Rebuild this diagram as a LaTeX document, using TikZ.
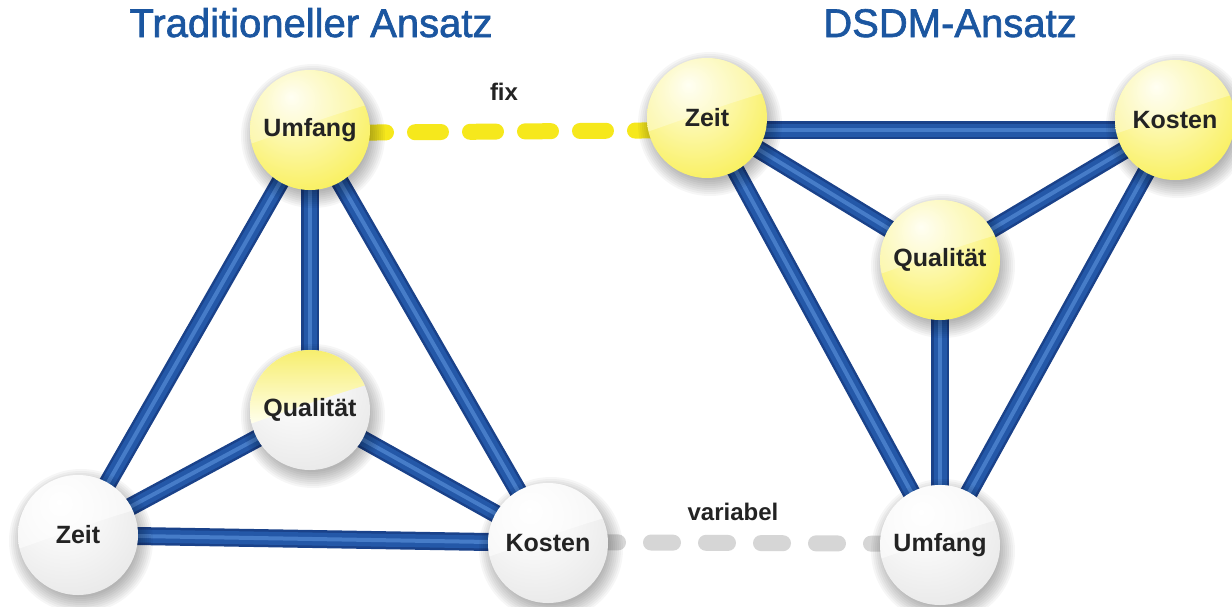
\documentclass[tikz,border=0pt]{standalone}
\usepackage{fontspec}
\setmainfont{Liberation Sans}
\newfontfamily\titlefont{Liberation Sans}[FakeBold=1.6]
\usetikzlibrary{calc}
\pgfdeclarelayer{bgpaper}
\pgfdeclarelayer{edges}
\pgfdeclarelayer{shadows}
\pgfsetlayers{bgpaper,edges,shadows,main}

\definecolor{titleblue}{RGB}{27,86,160}
\definecolor{lbltext}{RGB}{35,35,35}
\definecolor{edgeA}{RGB}{26,66,138}
\definecolor{edgeB}{RGB}{36,88,168}
\definecolor{edgeC}{RGB}{70,124,200}
\definecolor{dashY}{RGB}{246,232,28}
\definecolor{dashG}{RGB}{214,214,214}
\definecolor{yhi}{RGB}{255,255,238}
\definecolor{ylt}{RGB}{253,249,184}
\definecolor{ymd}{RGB}{249,240,96}
\definecolor{ydk}{RGB}{238,222,20}
\definecolor{yhalf}{RGB}{247,238,110}
\definecolor{ghi}{RGB}{255,255,255}
\definecolor{glt}{RGB}{248,248,248}
\definecolor{gmd}{RGB}{232,232,232}
\definecolor{gdk}{RGB}{210,210,210}

\pgfdeclareradialshading{yball}{\pgfpoint{-8bp}{14bp}}{color(0bp)=(yhi); color(12bp)=(ylt); color(34bp)=(ymd); color(50bp)=(ydk); color(72bp)=(ydk)}
\pgfdeclareradialshading{gball}{\pgfpoint{-8bp}{14bp}}{color(0bp)=(ghi); color(14bp)=(glt); color(36bp)=(gmd); color(50bp)=(gdk); color(72bp)=(gdk)}

\tikzset{
  sphere/.style={circle, minimum size=120pt, inner sep=0pt, text=lbltext,
    font=\bfseries\fontsize{25}{30}\selectfont},
  ysph/.style={sphere, shading=yball, path picture={
    \fill[white, fill opacity=0.32]
      ($(path picture bounding box.west)+(0,14)$)
      .. controls ($(path picture bounding box.center)+(-20,0)$) and ($(path picture bounding box.center)+(25,-16)$)
      .. ($(path picture bounding box.east)+(0,-26)$)
      -- (path picture bounding box.north east) -- (path picture bounding box.north west) -- cycle;}},
  gsph/.style={sphere, shading=gball, path picture={
    \fill[white, fill opacity=0.5]
      ($(path picture bounding box.west)+(0,14)$)
      .. controls ($(path picture bounding box.center)+(-20,0)$) and ($(path picture bounding box.center)+(25,-16)$)
      .. ($(path picture bounding box.east)+(0,-26)$)
      -- (path picture bounding box.north east) -- (path picture bounding box.north west) -- cycle;}},
  halfsph/.style={sphere, shading=gball, path picture={
    \begin{scope}
    \clip
      ($(path picture bounding box.west)+(0,14)$)
      .. controls ($(path picture bounding box.center)+(-20,0)$) and ($(path picture bounding box.center)+(25,-16)$)
      .. ($(path picture bounding box.east)+(0,-26)$)
      -- (path picture bounding box.north east) -- (path picture bounding box.north west) -- cycle;
    \shade[top color=yhalf, bottom color=yhi]
      (path picture bounding box.north west) rectangle ($(path picture bounding box.east)+(0,14)$);
    \end{scope}}},
  shadowring/.style={fill=black, fill opacity=0.035},
  blueedge/.style={line width=18pt, draw=edgeA,
    postaction={draw=edgeB, line width=13pt},
    postaction={draw=edgeC, line width=4pt}},
  ydash/.style={line width=16pt, draw=dashY, line cap=round,
    dash pattern=on 26pt off 29pt, dash phase=5pt},
  gdash/.style={line width=16pt, draw=dashG, line cap=round,
    dash pattern=on 22pt off 33pt, dash phase=7pt},
  titletext/.style={text=titleblue, font=\titlefont\fontsize{40}{46}\selectfont, inner sep=0pt, anchor=base},
  linklabel/.style={text=lbltext, font=\bfseries\fontsize{24}{28}\selectfont, inner sep=0pt, anchor=base}
}

\begin{document}
\begin{tikzpicture}[x=1pt,y=-1pt]
\begin{pgfonlayer}{bgpaper}
\fill[white] (0,0) rectangle (1232,606);
\end{pgfonlayer}
\useasboundingbox (0,0) rectangle (1232,606);

% titles
\node[titletext] (t1) at (311,37) {Traditioneller Ansatz};
\node[titletext] (t2) at (950,37) {DSDM-Ansatz};

% spheres
\node[ysph] (lU) at (310,130) {Umfang};
\node[halfsph] (lQ) at (310,410) {Qualität};
\node[gsph] (lZ) at (78,535) {Zeit};
\node[gsph] (lK) at (548,543) {Kosten};
\node[ysph] (rZ) at (707,118) {Zeit};
\node[ysph] (rK) at (1175,120) {Kosten};
\node[ysph] (rQ) at (940,260) {Qualität};
\node[gsph] (rU) at (940,545) {Umfang};

% link labels
\node[linklabel] (fix) at (504,100) {fix};
\node[linklabel] (var) at (733,520) {variabel};

\begin{pgfonlayer}{shadows}
\foreach \n in {lU,lQ,lZ,lK,rZ,rK,rQ,rU}
  \foreach \r in {56,58,...,72}
    \fill[shadowring] ($(\n.center)+(3,6)$) circle (\r);
\end{pgfonlayer}

\begin{pgfonlayer}{edges}
% traditional
\draw[blueedge] (lU.center) -- (lZ.center);
\draw[blueedge] (lU.center) -- (lK.center);
\draw[blueedge] (lU.center) -- (lQ.center);
\draw[blueedge] (lQ.center) -- (lZ.center);
\draw[blueedge] (lQ.center) -- (lK.center);
\draw[blueedge] (lZ.center) -- (lK.center);
% DSDM
\draw[blueedge] ($(rZ.center)+(0,12)$) -- ($(rK.center)+(0,10)$);
\draw[blueedge] (rZ.center) -- (rQ.center);
\draw[blueedge] (rK.center) -- (rQ.center);
\draw[blueedge] (rZ.center) -- (rU.center);
\draw[blueedge] (rK.center) -- (rU.center);
\draw[blueedge] (rQ.center) -- (rU.center);
% dashed links
\draw[ydash] ($(lU.center)+(0,3)$) -- ($(rZ.center)+(0,12)$);
\draw[gdash] ($(lK.center)+(0,-1)$) -- ($(rU.center)+(0,-1)$);
\end{pgfonlayer}
\end{tikzpicture}
\end{document}
